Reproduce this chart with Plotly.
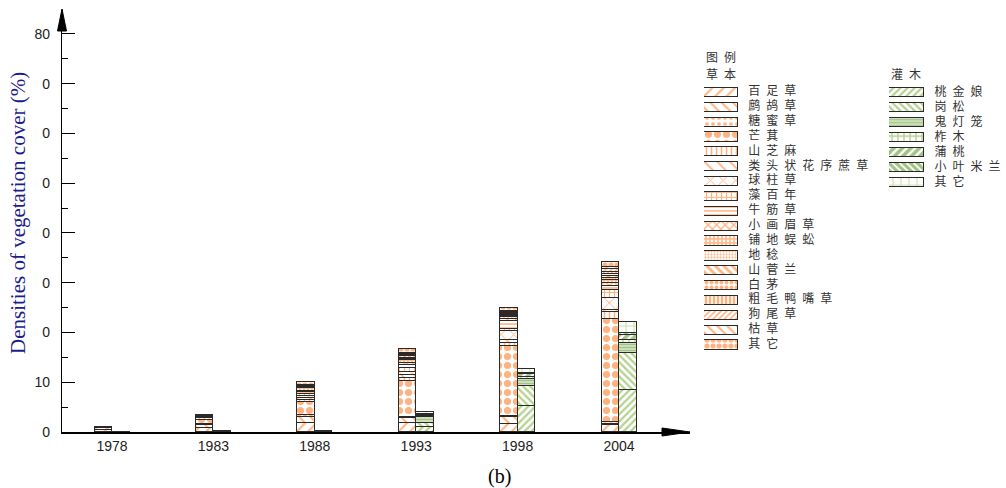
import plotly.graph_objects as go

# ---- data -------------------------------------------------------------
years = ["1978", "1983", "1988", "1993", "1998", "2004"]

herb_names = ["百足草", "鹧鸪草", "糖蜜草", "芒萁", "山芝麻", "类头状花序蔗草",
              "球柱草", "藻百年", "牛筋草", "小画眉草", "铺地蜈蚣", "地稔",
              "山菅兰", "白茅", "粗毛鸭嘴草", "狗尾草", "枯草", "其它"]
shrub_names = ["桃金娘", "岗松", "鬼灯笼", "柞木", "蒲桃", "小叶米兰", "其它"]

# herb cover (%) per year, species in the order of herb_names
herb_1978 = [0.5, 0.3, 0, 0, 0, 0, 0, 0, 0, 0, 0, 0, 0, 0, 0, 0, 0, 0.3]
herb_1983 = [0.9, 0.6, 0.2, 0.8, 0.3, 0.2, 0, 0, 0, 0.1, 0.2, 0, 0, 0, 0, 0, 0, 0.2]
herb_1988 = [1.8, 1.3, 0.3, 2.6, 0.5, 0.4, 0.3, 0.4, 0.4, 0.3, 0.6, 0, 0.2, 0.2, 0, 0.2, 0, 0.5]
herb_1993 = [1.8, 1.0, 0.3, 7.2, 0.5, 0.6, 0.6, 0.9, 0.6, 0.4, 0.6, 0.2, 0.2, 0.3, 0.2, 0.2, 0.2, 0.8]
herb_1998 = [1.7, 1.3, 0.2, 14.0, 0.7, 0.6, 1.7, 0.4, 1.8, 0.4, 0.3, 0.2, 0.2, 0.3, 0.2, 0.2, 0.2, 0.5]
herb_2004 = [1.4, 0.3, 0.3, 20.8, 1.4, 0.4, 2.4, 1.6, 0.8, 0.6, 0.6, 0.3, 0.4, 0.5, 0.4, 0.5, 0.5, 0.9]

# shrub cover (%) per year, species in the order of shrub_names
shrub_1978 = [0.05, 0.05, 0, 0, 0, 0, 0]
shrub_1983 = [0.1, 0.1, 0.05, 0, 0, 0, 0]
shrub_1988 = [0.1, 0.1, 0.1, 0, 0, 0, 0]
shrub_1993 = [1.0, 0.8, 1.2, 0.2, 0.3, 0.2, 0.3]
shrub_1998 = [5.2, 4.0, 1.5, 0.4, 0.5, 0.3, 0.7]
shrub_2004 = [8.4, 7.4, 2.0, 0.7, 1.0, 0.4, 2.3]

y_ticks = [0, 10, 20, 30, 40, 50, 60, 70, 80]
y_tick_text = ["0", "10", "0", "0", "0", "0", "0", "0", "80"]

herb_by_year = [herb_1978, herb_1983, herb_1988, herb_1993, herb_1998, herb_2004]
shrub_by_year = [shrub_1978, shrub_1983, shrub_1988, shrub_1993, shrub_1998, shrub_2004]

# ---- styles -----------------------------------------------------------
ORANGE = "#ff6600"
GREEN = "#6aa31c"
DKGREEN = "#468508"
LTGREEN = "#92c24e"
EDGE = "#2a2a2a"

# (shape, size, solidity, colour)
herb_style = [
    ("/", 8, 0.25, ORANGE), ("\\", 8, 0.25, ORANGE), (".", 6, 0.3, ORANGE),
    (".", 9, 0.5, ORANGE), ("|", 5, 0.3, ORANGE), ("\\", 9, 0.2, ORANGE),
    ("x", 9, 0.2, ORANGE), ("+", 5, 0.4, ORANGE), ("-", 4, 0.4, ORANGE),
    ("x", 6, 0.4, ORANGE), ("+", 4, 0.6, ORANGE), (".", 3, 0.4, ORANGE),
    ("\\", 6, 0.45, ORANGE), (".", 5, 0.5, ORANGE), ("|", 4, 0.6, ORANGE),
    ("/", 4, 0.4, ORANGE), ("\\", 7, 0.3, ORANGE), (".", 6, 0.6, ORANGE),
]
shrub_style = [
    ("/", 5, 0.45, GREEN), ("\\", 5, 0.45, GREEN), ("-", 3, 0.7, DKGREEN),
    ("+", 6, 0.4, GREEN), ("/", 6, 0.6, DKGREEN), ("\\", 5, 0.65, DKGREEN),
    ("+", 8, 0.25, LTGREEN),
]

# figure size; layout positions below are written in pixels of a 1006x488 frame
W, H = 1006, 496
FRAME_H = 488


def fx(p):
    return p / W


def fy(p):
    return 1 - p / FRAME_H


# category spacing / bar width in px and the px -> data scale of the y axis
STEP = 101.4
BAR_W = 17.5 / STEP
Y_PX = 4.976

fig = go.Figure()


def pattern(style):
    shape, size, solidity, colour = style
    return dict(shape=shape, size=size, solidity=solidity, fgcolor=colour,
                bgcolor="white", fillmode="overlay")


def present(v):
    # species absent in a year are left out of the stack
    return v if v else None


# ---- stacked bars -----------------------------------------------------
for k, name in enumerate(herb_names):
    fig.add_trace(go.Bar(
        x=[i - BAR_W / 2 for i in range(len(years))],
        y=[present(row[k]) for row in herb_by_year],
        width=BAR_W, name=name, showlegend=False,
        marker=dict(color="white", line=dict(color=EDGE, width=1),
                    pattern=pattern(herb_style[k])),
    ))

for k, name in enumerate(shrub_names):
    fig.add_trace(go.Bar(
        x=[i + BAR_W / 2 for i in range(len(years))],
        y=[present(row[k]) for row in shrub_by_year],
        width=BAR_W, name=name, showlegend=False,
        marker=dict(color="white", line=dict(color=EDGE, width=1),
                    pattern=pattern(shrub_style[k])),
    ))

# ---- key (swatches drawn as bars on their own axes) -------------------
SP = "\u2002"
KEY_FONT = dict(family="Noto Sans CJK SC", size=12, color="#333333")


def key_column(names, styles, xa, ya):
    n = len(names)
    fig.add_trace(go.Bar(
        x=[1] * n, y=list(range(n)), base=0, orientation="h", width=0.62,
        xaxis=xa, yaxis=ya, showlegend=False, hoverinfo="skip",
        marker=dict(
            color="white", line=dict(color=EDGE, width=1),
            pattern=dict(
                shape=[s[0] for s in styles], size=[s[1] for s in styles],
                solidity=[s[2] for s in styles], fgcolor=[s[3] for s in styles],
                bgcolor="white", fillmode="overlay"),
        ),
    ))
    fig.add_trace(go.Scatter(
        x=[1.3] * n, y=list(range(n)), mode="text",
        text=[SP.join(nm) for nm in names], textposition="middle right",
        textfont=KEY_FONT,
        xaxis=xa, yaxis=ya, showlegend=False, hoverinfo="skip", cliponaxis=False,
    ))


key_column(herb_names, herb_style, "x2", "y2")
key_column(shrub_names, shrub_style, "x3", "y3")

tick_font = dict(family="Liberation Sans, Arial", size=14, color="#222222")
hidden = dict(visible=False, showgrid=False, zeroline=False, fixedrange=True)

fig.update_layout(
    width=W, height=H,
    margin=dict(l=0, r=0, t=0, b=0),
    paper_bgcolor="white", plot_bgcolor="rgba(0,0,0,0)",
    barmode="stack", bargap=0,
    xaxis=dict(
        domain=[fx(62), fx(690)],
        range=[(62 - 112) / STEP, (690 - 112) / STEP],
        tickmode="array", tickvals=list(range(len(years))), ticktext=years,
        ticks="", showline=True, linecolor="black", linewidth=1.8,
        showgrid=False, zeroline=False, tickfont=tick_font,
    ),
    yaxis=dict(
        domain=[fy(432), fy(10)],
        range=[0, (432 - 10) / Y_PX],
        tickmode="array", tickvals=y_ticks, ticktext=y_tick_text,
        ticks="inside", ticklen=13, tickwidth=1, tickcolor="black",
        minor=dict(ticks="inside", ticklen=6, dtick=5, tick0=0,
                   tickcolor="black", tickwidth=1),
        showline=True, linecolor="black", linewidth=1.3,
        showgrid=False, zeroline=False, tickfont=tick_font,
        ticklabelstandoff=8,
    ),
    xaxis2=dict(domain=[fx(704), fx(870)], range=[0, 166 / 34], anchor="y2", **hidden),
    yaxis2=dict(domain=[fy(352.4), fy(84.9)], range=[17.5, -0.5], anchor="x2", **hidden),
    xaxis3=dict(domain=[fx(889), fx(1006)], range=[0, 117 / 35], anchor="y3", **hidden),
    yaxis3=dict(domain=[fy(190.2), fy(85.2)], range=[6.5, -0.5], anchor="x3", **hidden),
)

fig.add_annotation(x=fx(704), y=fy(56), xref="paper", yref="paper", text=SP.join("图例"),
                   showarrow=False, xanchor="left", yanchor="middle", font=KEY_FONT)
fig.add_annotation(x=fx(704), y=fy(73), xref="paper", yref="paper", text=SP.join("草本"),
                   showarrow=False, xanchor="left", yanchor="middle", font=KEY_FONT)
fig.add_annotation(x=fx(889), y=fy(73), xref="paper", yref="paper", text=SP.join("灌木"),
                   showarrow=False, xanchor="left", yanchor="middle", font=KEY_FONT)

fig.add_annotation(x=fx(18), y=fy(213), xref="paper", yref="paper",
                   text="Densities of vegetation cover (%)", textangle=-90,
                   showarrow=False, xanchor="center", yanchor="middle",
                   font=dict(family="Liberation Serif, Times New Roman", size=21, color="#1c1c8c"))
fig.add_annotation(x=fx(499), y=fy(476), xref="paper", yref="paper", text="(b)",
                   showarrow=False, xanchor="center", yanchor="middle",
                   font=dict(family="Liberation Serif, Times New Roman", size=20, color="black"))

# axis arrow heads
fig.add_shape(type="path", xref="paper", yref="paper", layer="above",
              path=f"M{fx(62)},{fy(9)} L{fx(57.5)},{fy(31)} L{fx(66.5)},{fy(31)} Z",
              fillcolor="black", line=dict(color="black", width=1))
fig.add_shape(type="path", xref="paper", yref="paper", layer="above",
              path=f"M{fx(690)},{fy(432)} L{fx(662)},{fy(428)} L{fx(662)},{fy(436)} Z",
              fillcolor="black", line=dict(color="black", width=1))

fig.write_html("out.html")
